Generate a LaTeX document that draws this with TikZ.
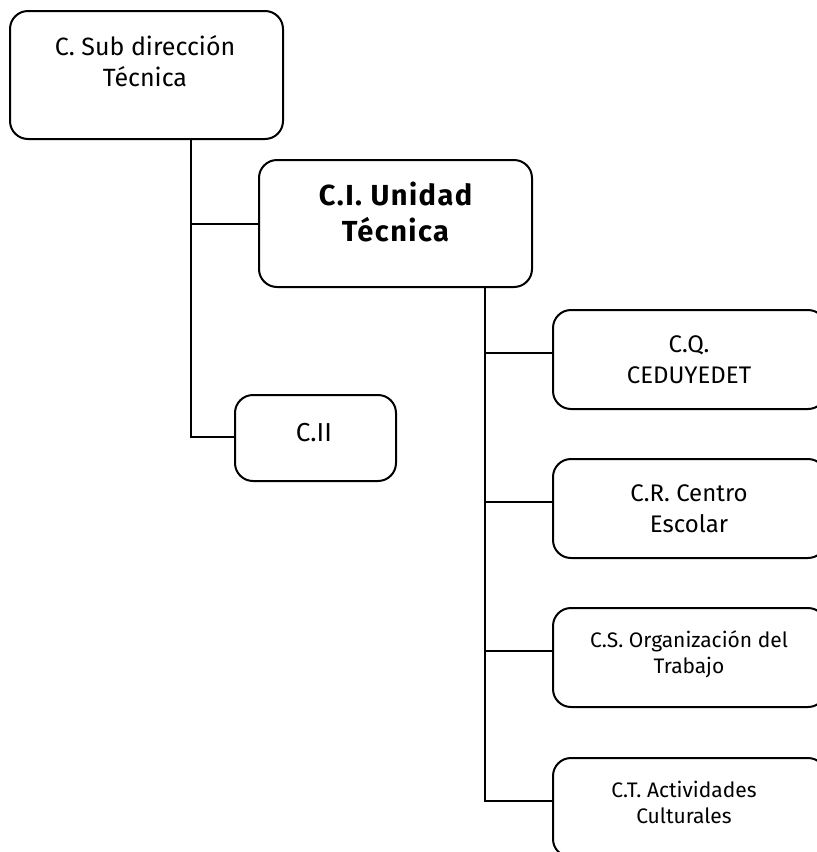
\documentclass[tikz,border=0pt]{standalone}
\usepackage{fontspec}
\setmainfont{Fira Sans}
\begin{document}
\begin{tikzpicture}[x=1pt,y=-1pt,
  unit/.style={draw, line width=2pt, rounded corners=18pt, minimum width=273pt, inner sep=0pt},
  wire/.style={line width=2pt},
  caption/.style={anchor=base, align=center, inner sep=0pt},
  big/.style={font=\fontsize{25}{31}\selectfont},
  mid/.style={font=\fontsize{24}{30.5}\selectfont},
  small/.style={font=\fontsize{21}{26}\selectfont},
  head/.style={font=\fontsize{29}{36}\selectfont\bfseries\addfontfeature{LetterSpace=5}}]
\clip (0,0) rectangle (817,852);

% boxes
\node[unit, minimum height=128pt] (b1) at (146.5,75) {};
\node[unit, minimum height=127pt] (b2) at (395.5,223.5) {};
\node[unit, minimum width=161pt, minimum height=86pt] (b3) at (315.5,438) {};
\node[unit, minimum height=99pt] (b4) at (689.5,359.5) {};
\node[unit, minimum height=99pt] (b5) at (689.5,508.5) {};
\node[unit, minimum height=99pt] (b6) at (689.5,657.5) {};
\node[unit, minimum height=99pt] (b7) at (689.5,807.5) {};

% labels (base anchor sits on the last line's baseline)
\node[caption, big] (t1) at (145,86) {C. Sub dirección\\Técnica};
\node[caption, head] (t2) at (395.5,241) {C.I. Unidad\\Técnica};
\node[caption, font=\fontsize{26}{31}\selectfont] (t3) at (314,441) {C.II};
\node[caption, mid] (t4) at (689,383) {C.Q.\\CEDUYEDET};
\node[caption, mid] (t5) at (689,532) {C.R. Centro\\Escolar};
\node[caption, small] (t6) at (689,673) {C.S. Organización del\\Trabajo};
\node[caption, small] (t7) at (684,823) {C.T. Actividades\\Culturales};

% connectors
\coordinate (j1) at (191,437);
\coordinate (j2) at (485,801);
\draw[wire] (b1.south -| j1) -- (j1) -- (j1 -| b3.west);
\draw[wire] (j1 |- b2.west) -- (b2.west);
\draw[wire] (b2.south -| j2) -- (j2) -- (j2 -| b7.west);
\draw[wire] ([yshift=7pt]b4.west -| j2) -- ([yshift=7pt]b4.west);
\draw[wire] ([yshift=7pt]b5.west -| j2) -- ([yshift=7pt]b5.west);
\draw[wire] ([yshift=7pt]b6.west -| j2) -- ([yshift=7pt]b6.west);
\end{tikzpicture}
\end{document}
